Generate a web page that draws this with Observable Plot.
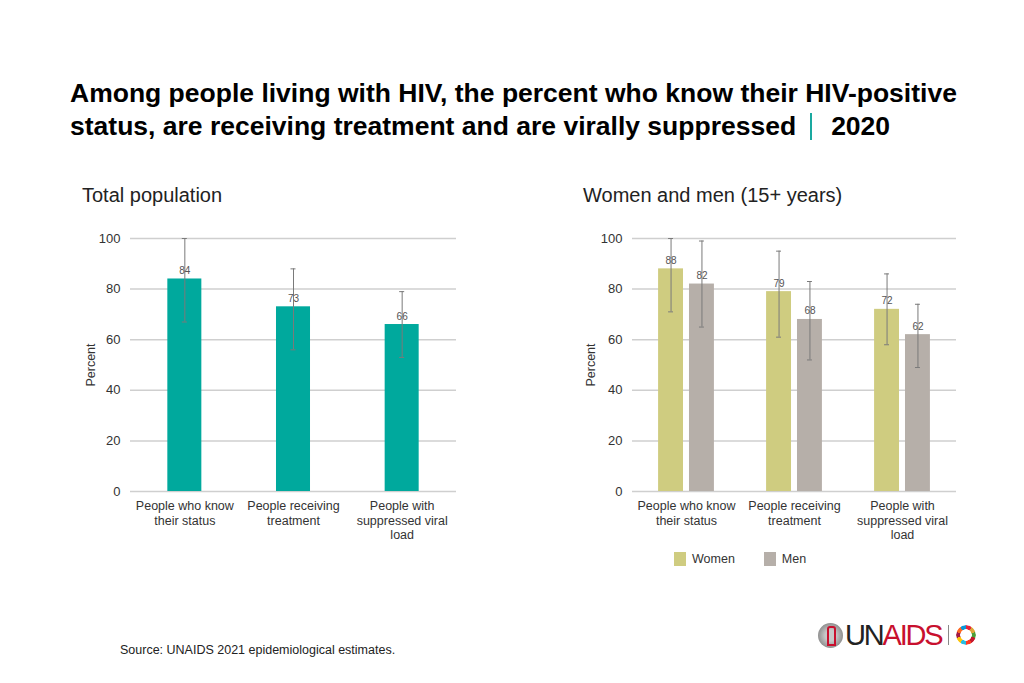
<!DOCTYPE html>
<html><head><meta charset="utf-8">
<script src="https://cdn.jsdelivr.net/npm/d3@7"></script>
<script src="https://cdn.jsdelivr.net/npm/@observablehq/plot@0.6"></script>
<style>
body{margin:0;background:#fff;font-family:"Liberation Sans",Arial,sans-serif;color:#000;}
#page{position:relative;width:1024px;height:683px;overflow:hidden;background:#fff;}
.abs{position:absolute;white-space:nowrap;}
#title{left:70px;top:77px;font-size:26.5px;font-weight:bold;line-height:33px;transform-origin:0 0;}
#title .bar{display:inline-block;width:2px;height:27px;background:#1aa9a0;vertical-align:-5px;margin:0 19px 0 14px;}
.sub{font-size:20px;line-height:22px;color:#222;}
#source{left:120px;top:643px;font-size:12.5px;line-height:14px;color:#222;}
#legend{left:674px;top:551px;font-size:12.5px;line-height:16px;color:#333;display:flex;align-items:center;}
#legend .sw{display:inline-block;width:12px;height:14px;margin-right:6px;}
#legend .item{display:flex;align-items:center;margin-right:29px;}
#logo{left:818px;top:621px;height:28px;display:flex;align-items:center;}
#logo .emb{width:25px;height:25px;border-radius:50%;background:radial-gradient(circle,#c8c8c8 30%,#8a8a8a 75%);position:relative;margin-right:2px;}
#logo .emb::after{content:"";position:absolute;left:9px;top:3px;width:5px;height:16px;border:2px solid #c8102e;border-radius:3px 3px 0 0;}
#logo .txt{font-family:"Liberation Sans",Arial,sans-serif;font-size:29px;letter-spacing:-2.2px;line-height:28px;}
#logo .sep{width:1px;height:20px;background:#888;margin:0 7px 0 7px;}
#logo .ring{width:20px;height:20px;border-radius:50%;background:conic-gradient(#e5243b 0 10%,#dda63a 0 20%,#4c9f38 0 30%,#c5192d 0 40%,#ff3a21 0 50%,#26bde2 0 60%,#fcc30b 0 70%,#a21942 0 80%,#fd6925 0 90%,#0a97d9 0 100%);-webkit-mask:radial-gradient(circle,transparent 5.5px,#000 6px);mask:radial-gradient(circle,transparent 5.5px,#000 6px);}
</style></head><body><div id="page">
<div id="title" class="abs">Among people living with HIV, the percent who know their HIV-positive<br>status, are receiving treatment and are virally suppressed<span class="bar"></span>2020</div>
<div class="abs sub" style="left:82px;top:184px;">Total population</div>
<div class="abs sub" style="left:583px;top:184px;">Women and men (15+ years)</div>
<div id="left" class="abs" style="left:80px;top:228px;"></div>
<div id="right" class="abs" style="left:580px;top:228px;"></div>
<div id="legend" class="abs"><span class="item"><span class="sw" style="background:#cfcc80"></span>Women</span><span class="item"><span class="sw" style="background:#b6afa9"></span>Men</span></div>
<div id="source" class="abs">Source: UNAIDS 2021 epidemiological estimates.</div>
<div id="logo" class="abs"><span class="emb"></span><span class="txt"><span style="color:#222">UN</span><span style="color:#c8102e">AIDS</span></span><span class="sep"></span><span class="ring"></span></div>
</div>
<script>
const categories = ["People who know their status","People receiving treatment","People with suppressed viral load"];
const categoryLabels = ["People who know\ntheir status","People receiving\ntreatment","People with\nsuppressed viral\nload"];
const totalValues = [84, 73, 66];
const totalLow = [67, 56, 53];
const totalHigh = [100, 88, 79];
const sexes = ["Women", "Men"];
const womenValues = [88, 79, 72];
const womenLow = [71, 61, 58];
const womenHigh = [100, 95, 86];
const menValues = [82, 68, 62];
const menLow = [65, 52, 49];
const menHigh = [99, 83, 74];
const yTicks = [0, 20, 40, 60, 80, 100];

const teal = "#00a99d", womenColor = "#cfcc80", menColor = "#b6afa9";
const gridColor = "#cfcfcf", errColor = "#7a7a7a";
const font = "Liberation Sans, Arial, sans-serif";

const totalData = categories.map((c, i) => ({category: c, label: categoryLabels[i], value: totalValues[i], low: totalLow[i], high: totalHigh[i]}));
const sexData = [];
categories.forEach((c, i) => {
  sexData.push({category: c, sex: "Women", value: womenValues[i], low: womenLow[i], high: womenHigh[i]});
  sexData.push({category: c, sex: "Men", value: menValues[i], low: menLow[i], high: menHigh[i]});
});

const common = {
  width: 390, height: 320,
  marginTop: 10, marginBottom: 57,
  style: {fontFamily: font, fontSize: "13px", color: "#333", background: "transparent", overflow: "visible"},
  y: {domain: [0, 100]}
};
const yAxis = () => Plot.axisY({ticks: yTicks, tickSize: 0, tickPadding: 10, fontSize: 13, label: null, fill: "#333"});

const left = Plot.plot({
  ...common,
  marginLeft: 50, marginRight: 14,
  x: {domain: categories, paddingInner: 0.687, paddingOuter: 0.3435, round: false, axis: null},
  marks: [
    Plot.ruleY(yTicks, {stroke: gridColor, strokeWidth: 1.5}),
    yAxis(),
    Plot.barY(totalData, {x: "category", y: "value", fill: teal}),
    Plot.ruleX(totalData, {x: "category", y1: "low", y2: "high", stroke: errColor, strokeWidth: 1}),
    Plot.tickY(totalData, {x: "category", y: "high", stroke: errColor, inset: 14.5}),
    Plot.tickY(totalData, {x: "category", y: "low", stroke: errColor, inset: 14.5}),
    Plot.text(totalData, {x: "category", y: "value", text: d => String(d.value), dy: -5, lineAnchor: "bottom", fontSize: 10, fill: "#555"}),
    Plot.text(totalData, {x: "category", text: "label", frameAnchor: "bottom", lineAnchor: "top", dy: 8, lineHeight: 1.17, fontSize: 12.5, fill: "#333"}),
    Plot.text(["Percent"], {frameAnchor: "left", textAnchor: "middle", rotate: -90, dx: -40, fontSize: 12.5, fill: "#333"})
  ]
});
document.getElementById("left").appendChild(left);

const right = Plot.plot({
  ...common,
  marginLeft: 52, marginRight: 14,
  fx: {domain: categories, padding: 0, axis: null, label: null, round: false},
  x: {domain: sexes, paddingInner: 0.1935, paddingOuter: 0.844, round: false, axis: null},
  color: {domain: sexes, range: [womenColor, menColor]},
  marks: [
    Plot.ruleY(yTicks, {stroke: gridColor, strokeWidth: 1.5}),
    yAxis(),
    Plot.barY(sexData, {fx: "category", x: "sex", y: "value", fill: "sex"}),
    Plot.ruleX(sexData, {fx: "category", x: "sex", y1: "low", y2: "high", stroke: errColor, strokeWidth: 1}),
    Plot.tickY(sexData, {fx: "category", x: "sex", y: "high", stroke: errColor, inset: 10}),
    Plot.tickY(sexData, {fx: "category", x: "sex", y: "low", stroke: errColor, inset: 10}),
    Plot.text(sexData, {fx: "category", x: "sex", y: "value", text: d => String(d.value), dy: -5, lineAnchor: "bottom", fontSize: 10, fill: "#555"}),
    Plot.text(totalData, {fx: "category", text: "label", frameAnchor: "bottom", lineAnchor: "top", dy: 8, lineHeight: 1.17, fontSize: 12.5, fill: "#333"}),
    Plot.text(["Percent"], {fx: () => categories[0], frameAnchor: "left", textAnchor: "middle", rotate: -90, dx: -42, fontSize: 12.5, fill: "#333"})
  ]
});
document.getElementById("right").appendChild(right);
</script>
</body></html>
